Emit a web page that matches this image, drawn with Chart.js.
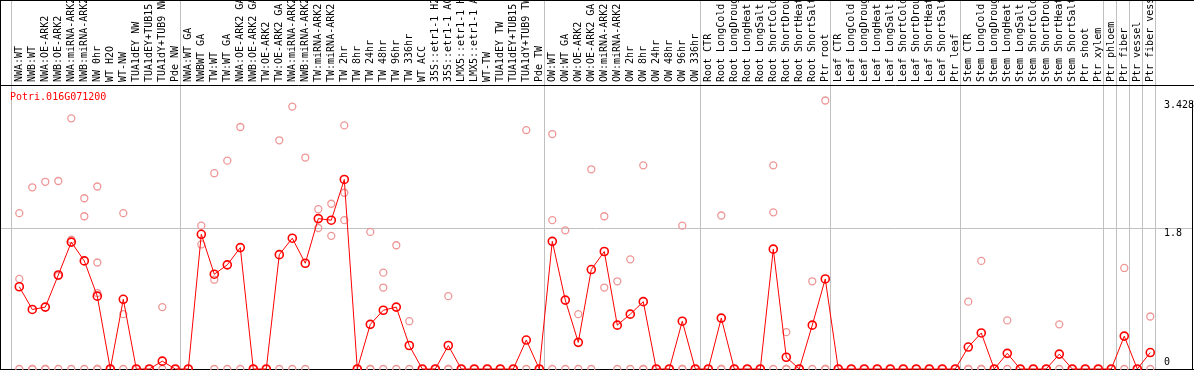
<!DOCTYPE html>
<html>
<head>
<meta charset="utf-8">
<script src="https://cdn.jsdelivr.net/npm/chart.js@4/dist/chart.umd.min.js"></script>
<style>
body { margin: 0; background: #fff; }
canvas { display: block; }
</style>
</head>
<body>
<canvas id="chart" width="1194" height="370"></canvas>
<script>
const geneName = "Potri.016G071200";

const sampleLabels = [
    "NWA:WT", "NWB:WT", "NWA:OE-ARK2", "NWB:OE-ARK2", "NWA:miRNA-ARK2", "NWB:miRNA-ARK2",
    "NW 0hr", "WT H2O", "WT-NW", "TUA1dEY NW", "TUA1dEY+TUB15 NW", "TUA1dY+TUB9 NW", "Pde NW",
    "NWA:WT GA", "NWBWT GA", "TW:WT", "TW:WT GA", "NWA:OE-ARK2 GA", "NWB:OE-ARK2 GA",
    "TW:OE-ARK2", "TW:OE-ARK2 GA", "NWA:miRNA-ARK2", "NWB:miRNA-ARK2", "TW:miRNA-ARK2", "TW:miRNA-ARK2",
    "TW 2hr", "TW 8hr", "TW 24hr", "TW 48hr", "TW 96hr", "TW 336hr", "WT ACC",
    "35S::etr1-1 H2O", "35S::etr1-1 ACC", "LMX5::etr1-1 H2O", "LMX5::etr1-1 ACC",
    "WT-TW", "TUA1dEY TW", "TUA1dEY+TUB15 TW", "TUA1dY+TUB9 TW", "Pde TW",
    "OW:WT", "OW:WT GA", "OW:OE-ARK2", "OW:OE-ARK2 GA", "OW:miRNA-ARK2", "OW:miRNA-ARK2",
    "OW 2hr", "OW 8hr", "OW 24hr", "OW 48hr", "OW 96hr", "OW 336hr",
    "Root CTR", "Root LongCold", "Root LongDrought", "Root LongHeat", "Root LongSalt",
    "Root ShortCold", "Root ShortDrought", "Root ShortHeat", "Root ShortSalt", "Ptr root",
    "Leaf CTR", "Leaf LongCold", "Leaf LongDrought", "Leaf LongHeat", "Leaf LongSalt",
    "Leaf ShortCold", "Leaf ShortDrought", "Leaf ShortHeat", "Leaf ShortSalt", "Ptr leaf",
    "Stem CTR", "Stem LongCold", "Stem LongDrought", "Stem LongHeat", "Stem LongSalt",
    "Stem ShortCold", "Stem ShortDrought", "Stem ShortHeat", "Stem ShortSalt", "Ptr shoot",
    "Ptr xylem", "Ptr phloem", "Ptr fiber", "Ptr vessel", "Ptr fiber vessel"
];

// mean expression per sample (red line)
const meanValues = [
    1.05, 0.76, 0.79, 1.20, 1.62, 1.38, 0.93, 0, 0.89, 0, 0, 0.10, 0,
    0, 1.72, 1.21, 1.33, 1.55, 0, 0, 1.46, 1.67, 1.35, 1.92, 1.90,
    2.42, 0, 0.57, 0.75, 0.79, 0.30, 0, 0, 0.30, 0, 0, 0, 0, 0, 0.37, 0,
    1.63, 0.88, 0.34, 1.27, 1.50, 0.56, 0.70, 0.86, 0, 0, 0.61, 0,
    0, 0.65, 0, 0, 0, 1.53, 0.15, 0, 0.56, 1.15,
    0, 0, 0, 0, 0, 0, 0, 0, 0, 0,
    0.28, 0.46, 0, 0.20, 0, 0, 0, 0.19, 0, 0,
    0, 0, 0.42, 0, 0.21
];

// single replicates per sample (pink circles)
const replicateValues = [
    [1.99, 1.15, 0], [2.32, 0, 0], [2.39, 0, 0], [2.40, 1.19, 0], [3.20, 1.65, 0], [2.18, 1.95, 0],
    [2.33, 1.36, 0.97, 0, 0], [0], [1.99, 0.70, 0], [0], [0], [0.79, 0], [0],
    [0], [1.83, 1.59], [2.50, 1.14, 0], [2.66, 0], [3.09, 0], [0], [0], [2.92, 0], [3.35, 0],
    [2.70, 0], [2.04, 1.80], [2.11, 1.70], [3.11, 2.25, 1.90], [0], [1.75, 0, 0], [1.23, 1.04, 0],
    [1.58, 0], [0.61, 0], [0], [0], [0.93, 0, 0], [0], [0], [0], [0], [0], [3.05, 0], [0],
    [3.00, 1.90, 0], [1.77, 0], [0.70, 0], [2.55, 0], [1.95, 1.04], [1.12, 0], [1.40, 0],
    [2.60, 0, 0], [0], [0], [1.83, 0, 0], [0],
    [0], [1.96, 0, 0], [0], [0], [0], [2.60, 2.00, 0], [0.47, 0, 0], [0], [1.12, 0], [3.428, 0, 0],
    [0], [0], [0], [0], [0], [0], [0], [0], [0], [0],
    [0.86, 0, 0], [1.38, 0, 0], [0], [0.62, 0], [0], [0], [0], [0.57, 0], [0], [0],
    [0], [0], [1.29, 0], [0], [0.67, 0]
];

// last sample index of each group (vertical separators)
const groupEnds = [-1, 12, 40, 52, 62, 72, 83, 84, 85, 86, 87];
const yTickValues = [0, 1.8, 3.428];
const yMax = 3.626;

Chart.defaults.font.family = "'DejaVu Sans Mono', monospace";
Chart.defaults.font.size = 10;
Chart.defaults.color = "#000";

const meanPoints = meanValues.map((v, i) => ({ x: i, y: v }));
const repPoints = [];
replicateValues.forEach((list, i) => {
    list.forEach(v => repPoints.push({ x: i, y: v }));
});

const framePlugin = {
    id: "frame",
    beforeDatasetsDraw(chart) {
        const { ctx, chartArea, scales } = chart;
        ctx.save();
        ctx.lineWidth = 1;
        ctx.strokeStyle = "#c0c0c0";
        groupEnds.forEach(g => {
            const px = Math.round(scales.x.getPixelForValue(g + 0.38)) + 0.5;
            ctx.beginPath();
            ctx.moveTo(px, 0);
            ctx.lineTo(px, chartArea.bottom);
            ctx.stroke();
        });
        ctx.strokeStyle = "#000";
        ctx.beginPath();
        ctx.moveTo(0, 0.5); ctx.lineTo(chart.width, 0.5);
        ctx.moveTo(0, chartArea.top + 0.5); ctx.lineTo(chart.width, chartArea.top + 0.5);
        ctx.moveTo(0, chartArea.bottom + 0.5); ctx.lineTo(chart.width, chartArea.bottom + 0.5);
        ctx.moveTo(0.5, 0); ctx.lineTo(0.5, chart.height);
        const rx = Math.round(chartArea.right) + 0.5;
        ctx.moveTo(rx, Math.round(scales.y.getPixelForValue(yTickValues[2])));
        ctx.lineTo(rx, chartArea.bottom);
        ctx.stroke();
        ctx.restore();
    },
    afterDatasetsDraw(chart) {
        const { ctx, chartArea } = chart;
        ctx.save();
        ctx.fillStyle = "#ff0000";
        ctx.font = "10px 'DejaVu Sans Mono', monospace";
        ctx.textBaseline = "middle";
        ctx.fillText(geneName, chartArea.left + 9, chartArea.top + 12);
        ctx.restore();
    }
};

new Chart(document.getElementById("chart"), {
    type: "line",
    data: {
        datasets: [{
            label: "mean",
            data: meanPoints,
            borderColor: "#ff0000",
            borderWidth: 1,
            pointRadius: 4,
            pointBorderWidth: 1.6,
            pointBorderColor: "#ff0000",
            pointBackgroundColor: "rgba(0,0,0,0)",
            tension: 0,
            clip: false
        }, {
            label: "replicates",
            data: repPoints,
            showLine: false,
            pointRadius: 3.5,
            pointBorderWidth: 1.3,
            pointBorderColor: "rgb(238,150,150)",
            pointBackgroundColor: "rgba(0,0,0,0)",
            clip: false
        }]
    },
    options: {
        responsive: false,
        animation: false,
        layout: { autoPadding: false, padding: { left: 1, right: 1, top: 0, bottom: 1 } },
        plugins: {
            legend: { display: false },
            tooltip: { enabled: false }
        },
        scales: {
            x: {
                type: "linear",
                position: "top",
                min: -1.408,
                max: 90.21,
                afterBuildTicks: (axis) => {
                    axis.ticks = sampleLabels.map((_, i) => ({ value: i }));
                },
                afterFit: (axis) => {
                    axis.height = 85;
                    axis.paddingLeft = 0;
                    axis.paddingRight = 0;
                },
                grid: { display: false, drawTicks: false },
                border: { display: false },
                ticks: {
                    autoSkip: false,
                    minRotation: 90,
                    maxRotation: 90,
                    padding: 3,
                    labelOffset: 12,
                    callback: (value, index) => sampleLabels[index]
                }
            },
            y: {
                type: "linear",
                position: "right",
                min: 0,
                max: yMax,
                afterBuildTicks: (axis) => {
                    axis.ticks = yTickValues.map(v => ({ value: v }));
                },
                afterFit: (axis) => {
                    axis.width = 1;
                    axis.paddingTop = 0;
                    axis.paddingBottom = 0;
                },
                grid: {
                    drawTicks: false,
                    color: (c) => (c.tick && c.tick.value === 1.8) ? "#c0c0c0" : "rgba(0,0,0,0)"
                },
                border: { display: false },
                ticks: {
                    mirror: true,
                    crossAlign: "far",
                    padding: 2,
                    labelOffset: 5,
                    callback: (value) => value === 0 ? ["0", "", ""] : String(value)
                }
            }
        }
    },
    plugins: [framePlugin]
});
</script>
</body>
</html>
